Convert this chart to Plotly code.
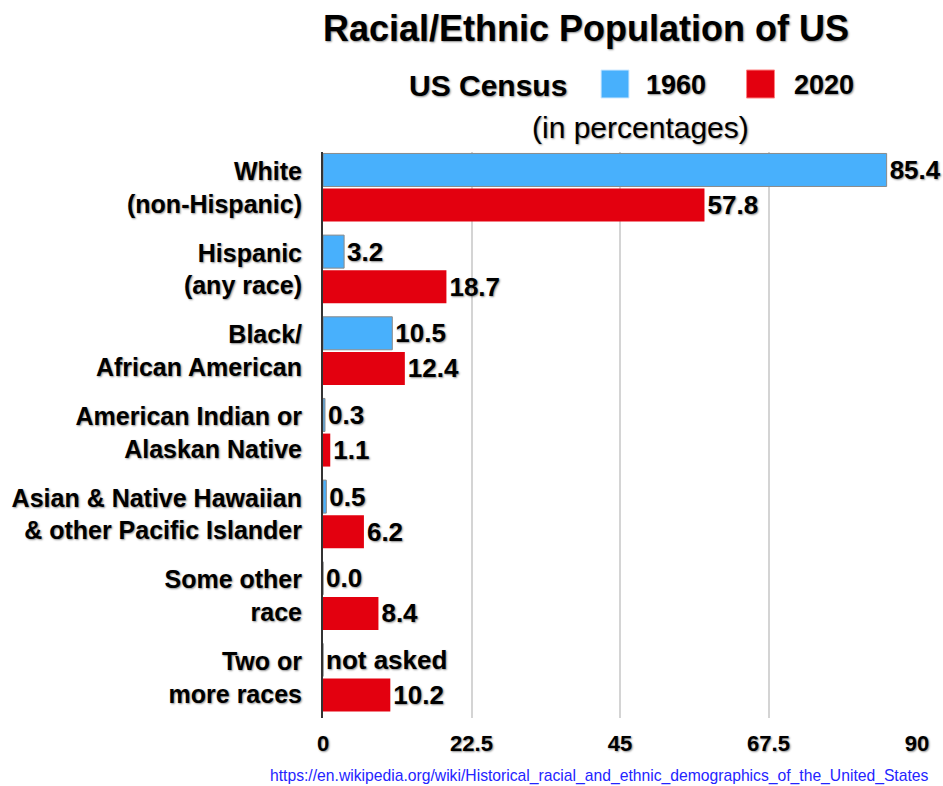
import plotly.graph_objects as go

categories = ["White<br>(non-Hispanic)", "Hispanic<br>(any race)", "Black/<br>African American",
              "American Indian or<br>Alaskan Native", "Asian & Native Hawaiian<br>& other Pacific Islander",
              "Some other<br>race", "Two or<br>more races"]
values_1960 = [85.4, 3.2, 10.5, 0.3, 0.5, 0.0, None]
values_2020 = [57.8, 18.7, 12.4, 1.1, 6.2, 8.4, 10.2]
text_1960 = ["85.4", "3.2", "10.5", "0.3", "0.5", "0.0", "not asked"]
text_2020 = ["57.8", "18.7", "12.4", "1.1", "6.2", "8.4", "10.2"]
tick_vals = [0, 22.5, 45, 67.5, 90]
tick_text = ["0", "22.5", "45", "67.5", "90"]

BLUE = "#48B0FC"
RED = "#E3000F"
FONT = "Liberation Sans, Arial, sans-serif"
SHADOW = "1px 1px 2px rgba(0,0,0,0.45)"

L, R, T, B = 321, 26, 152, 68
W, H = 943, 786

fig = go.Figure()
fig.add_trace(go.Bar(
    y=categories, x=[v if v is not None else 0 for v in values_1960], orientation="h",
    name="1960", marker=dict(color=BLUE, line=dict(color="#8a8a8a", width=1)),
    text=text_1960, textposition="outside", cliponaxis=False,
    textfont=dict(family=FONT, size=26, color="black", weight="bold", shadow=SHADOW),
))
fig.add_trace(go.Bar(
    y=categories, x=values_2020, orientation="h",
    name="2020", marker=dict(color=RED, line=dict(color=RED, width=0)),
    text=text_2020, textposition="outside", cliponaxis=False,
    textfont=dict(family=FONT, size=26, color="black", weight="bold", shadow=SHADOW),
))

fig.update_layout(
    width=W, height=H,
    margin=dict(l=L, r=R, t=T, b=B),
    paper_bgcolor="white", plot_bgcolor="white",
    barmode="group", bargap=0.14, bargroupgap=0.06,
    showlegend=False,
    font=dict(family=FONT, color="black"),
    uniformtext=dict(mode=False),
    xaxis=dict(range=[0, 90], tickvals=tick_vals, ticktext=tick_text,
               showgrid=True, gridcolor="#d4d4d4", gridwidth=1.5, zeroline=False,
               showline=False, ticks="", ticklabelstandoff=10,
               tickfont=dict(family=FONT, size=22, weight="bold", shadow=SHADOW)),
    yaxis=dict(range=[6.496, -0.435], showline=True, linecolor="#333333", linewidth=2,
               ticks="", ticklabelstandoff=14, showgrid=False,
               tickfont=dict(family=FONT, size=25, weight="bold", shadow=SHADOW)),
)

def px_x(px):
    return (px - L) / (W - L - R)

def px_y(py):
    return (H - B - py) / (H - T - B)

annotations = [
    dict(text="Racial/Ethnic Population of US", x=px_x(585), y=px_y(28),
         font=dict(size=36, weight="bold", shadow=SHADOW)),
    dict(text="US Census", x=px_x(487), y=px_y(85),
         font=dict(size=30, weight="bold", shadow=SHADOW)),
    dict(text="1960", x=px_x(675), y=px_y(85),
         font=dict(size=27, weight="bold", shadow=SHADOW)),
    dict(text="2020", x=px_x(824), y=px_y(85),
         font=dict(size=27, weight="bold", shadow=SHADOW)),
    dict(text="(in percentages)", x=px_x(640), y=px_y(128),
         font=dict(size=30, shadow=SHADOW)),
    dict(text="https://en.wikipedia.org/wiki/Historical_racial_and_ethnic_demographics_of_the_United_States",
         x=px_x(931), y=px_y(776), xanchor="right",
         font=dict(size=15.7, color="#2424ff", family="Liberation Sans Narrow, Arial Narrow, sans-serif")),
]
for a in annotations:
    a.setdefault("xanchor", "center")
    a.update(xref="paper", yref="paper", yanchor="middle", showarrow=False)
    a["font"].setdefault("family", FONT)
    a["font"].setdefault("color", "black")
fig.update_layout(annotations=annotations)

fig.add_shape(type="rect", xref="paper", yref="paper",
              x0=px_x(600), x1=px_x(628), y0=px_y(70), y1=px_y(98),
              fillcolor=BLUE, line=dict(color="#cfe9ff", width=1))
fig.add_shape(type="rect", xref="paper", yref="paper",
              x0=px_x(746), x1=px_x(774), y0=px_y(70), y1=px_y(98),
              fillcolor=RED, line=dict(color="#ff8080", width=1))

fig.write_html("out.html")
